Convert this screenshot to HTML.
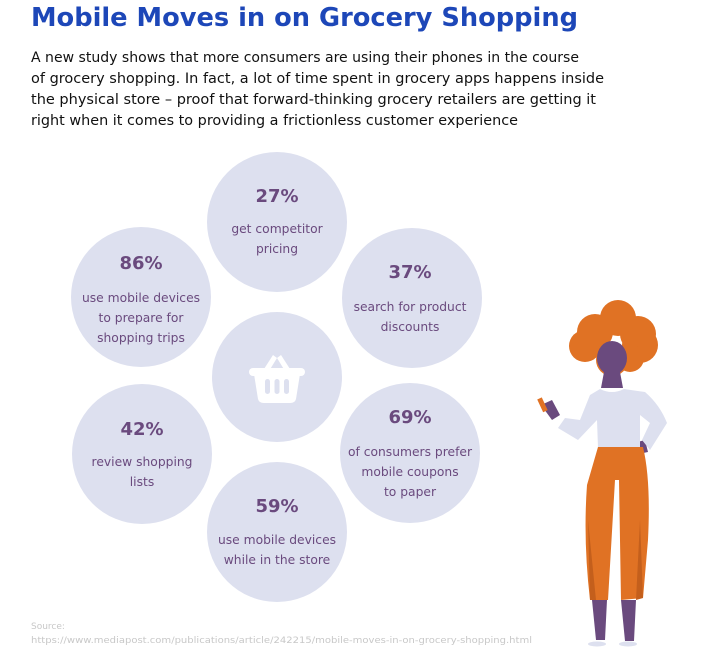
<!DOCTYPE html>
<html><head><style>
body{margin:0;background:#fff;width:701px;height:662px;overflow:hidden}
</style></head><body>
<svg width="701" height="662" style="position:absolute;left:0;top:0" font-family="DejaVu Sans, Liberation Sans, sans-serif">
<text x="31" y="26" font-size="26" font-weight="bold" fill="#1d47b8" textLength="547" lengthAdjust="spacingAndGlyphs">Mobile Moves in on Grocery Shopping</text>
<g font-size="14" fill="#111" lengthAdjust="spacingAndGlyphs">
<text x="31" y="62" textLength="548" lengthAdjust="spacingAndGlyphs">A new study shows that more consumers are using their phones in the course</text>
<text x="31" y="83" textLength="573" lengthAdjust="spacingAndGlyphs">of grocery shopping. In fact, a lot of time spent in grocery apps happens inside</text>
<text x="31" y="104" textLength="565" lengthAdjust="spacingAndGlyphs">the physical store – proof that forward-thinking grocery retailers are getting it</text>
<text x="31" y="125" textLength="487" lengthAdjust="spacingAndGlyphs">right when it comes to providing a frictionless customer experience</text>
</g>
<g fill="#dde0ef">
<circle cx="277" cy="222" r="70"/><circle cx="141" cy="297" r="70"/><circle cx="412" cy="298" r="70"/>
<circle cx="277" cy="377" r="65"/><circle cx="142" cy="454" r="70"/><circle cx="410" cy="453" r="70"/><circle cx="277" cy="532" r="70"/>
</g>
<g fill="#fff">
<rect x="249" y="368" width="56" height="8" rx="4"/>
<path d="M254 374 H300 L296 399 Q295 403 290 403 H264 Q259 403 258 399 Z"/>
<path d="M264 369 L273 355 L277 358 L269 371Z M290 369 L281 355 L277 358 L285 371Z"/>
</g>
<g fill="#dde0ef"><rect x="265" y="379" width="5" height="15" rx="2.5"/><rect x="274.5" y="379" width="5" height="15" rx="2.5"/><rect x="284" y="379" width="5" height="15" rx="2.5"/></g>
<g fill="#6a4a7e" text-anchor="middle" font-size="12.3">
<text x="277" y="202" font-size="18" font-weight="bold">27%</text><text x="277" y="233">get competitor</text><text x="277" y="253">pricing</text>
<text x="141" y="269" font-size="18" font-weight="bold">86%</text><text x="141" y="302">use mobile devices</text><text x="141" y="322">to prepare for</text><text x="141" y="342">shopping trips</text>
<text x="410" y="278" font-size="18" font-weight="bold">37%</text><text x="410" y="311">search for product</text><text x="410" y="331">discounts</text>
<text x="142" y="435" font-size="18" font-weight="bold">42%</text><text x="142" y="466">review shopping</text><text x="142" y="486">lists</text>
<text x="410" y="423" font-size="18" font-weight="bold">69%</text><text x="410" y="456">of consumers prefer</text><text x="410" y="476">mobile coupons</text><text x="410" y="496">to paper</text>
<text x="277" y="512" font-size="18" font-weight="bold">59%</text><text x="277" y="544">use mobile devices</text><text x="277" y="564">while in the store</text>
</g>
<text x="31" y="629" font-size="9" fill="#c8c8c8">Source:</text>
<text x="31" y="643" font-size="9" fill="#c8c8c8" textLength="501" lengthAdjust="spacingAndGlyphs">https://www.mediapost.com/publications/article/242215/mobile-moves-in-on-grocery-shopping.html</text>
<g fill="#e07224">
<circle cx="595" cy="332" r="18"/><circle cx="618" cy="318" r="18"/><circle cx="638" cy="334" r="18"/><circle cx="640" cy="345" r="18"/><circle cx="585" cy="346" r="16"/><circle cx="612" cy="360" r="16"/><circle cx="630" cy="358" r="14"/>
</g>
<g fill="#6a4a7e">
<ellipse cx="612" cy="358" rx="15" ry="17"/>
<path d="M604 372 H620 L623 388 H601Z"/>
<path d="M592 600 H607 L605 640 H596Z M621 600 H636 L634 641 H625Z"/>
<path d="M541 405 L552 400 L560 415 L552 420Z M615 448 L645 440 L648 452 L620 458Z"/>
</g>
<rect x="540" y="398" width="5" height="14" fill="#e07224" transform="rotate(-25 542 405)"/>
<path fill="#dde0ef" d="M600 389 Q612 395 624 389 L645 392 Q660 405 667 423 L650 450 L642 440 L650 423 L640 415 L640 448 Q620 452 598 448 L597 420 L578 440 L558 428 L565 418 L580 420 L590 395Z"/>
<path fill="#e07224" d="M598 447 L643 447 Q651 480 648 540 L643 598 L621 600 L619 480 L615 480 L608 600 L590 600 Q583 540 587 485 Z"/>
<path fill="#c45f1c" d="M588 520 L596 600 L590 600Z M640 520 L636 600 L643 598Z"/>
<g fill="#dde0ef"><ellipse cx="597" cy="644" rx="9" ry="2.5"/><ellipse cx="628" cy="644" rx="9" ry="2.5"/></g>
</svg>
</body></html>
